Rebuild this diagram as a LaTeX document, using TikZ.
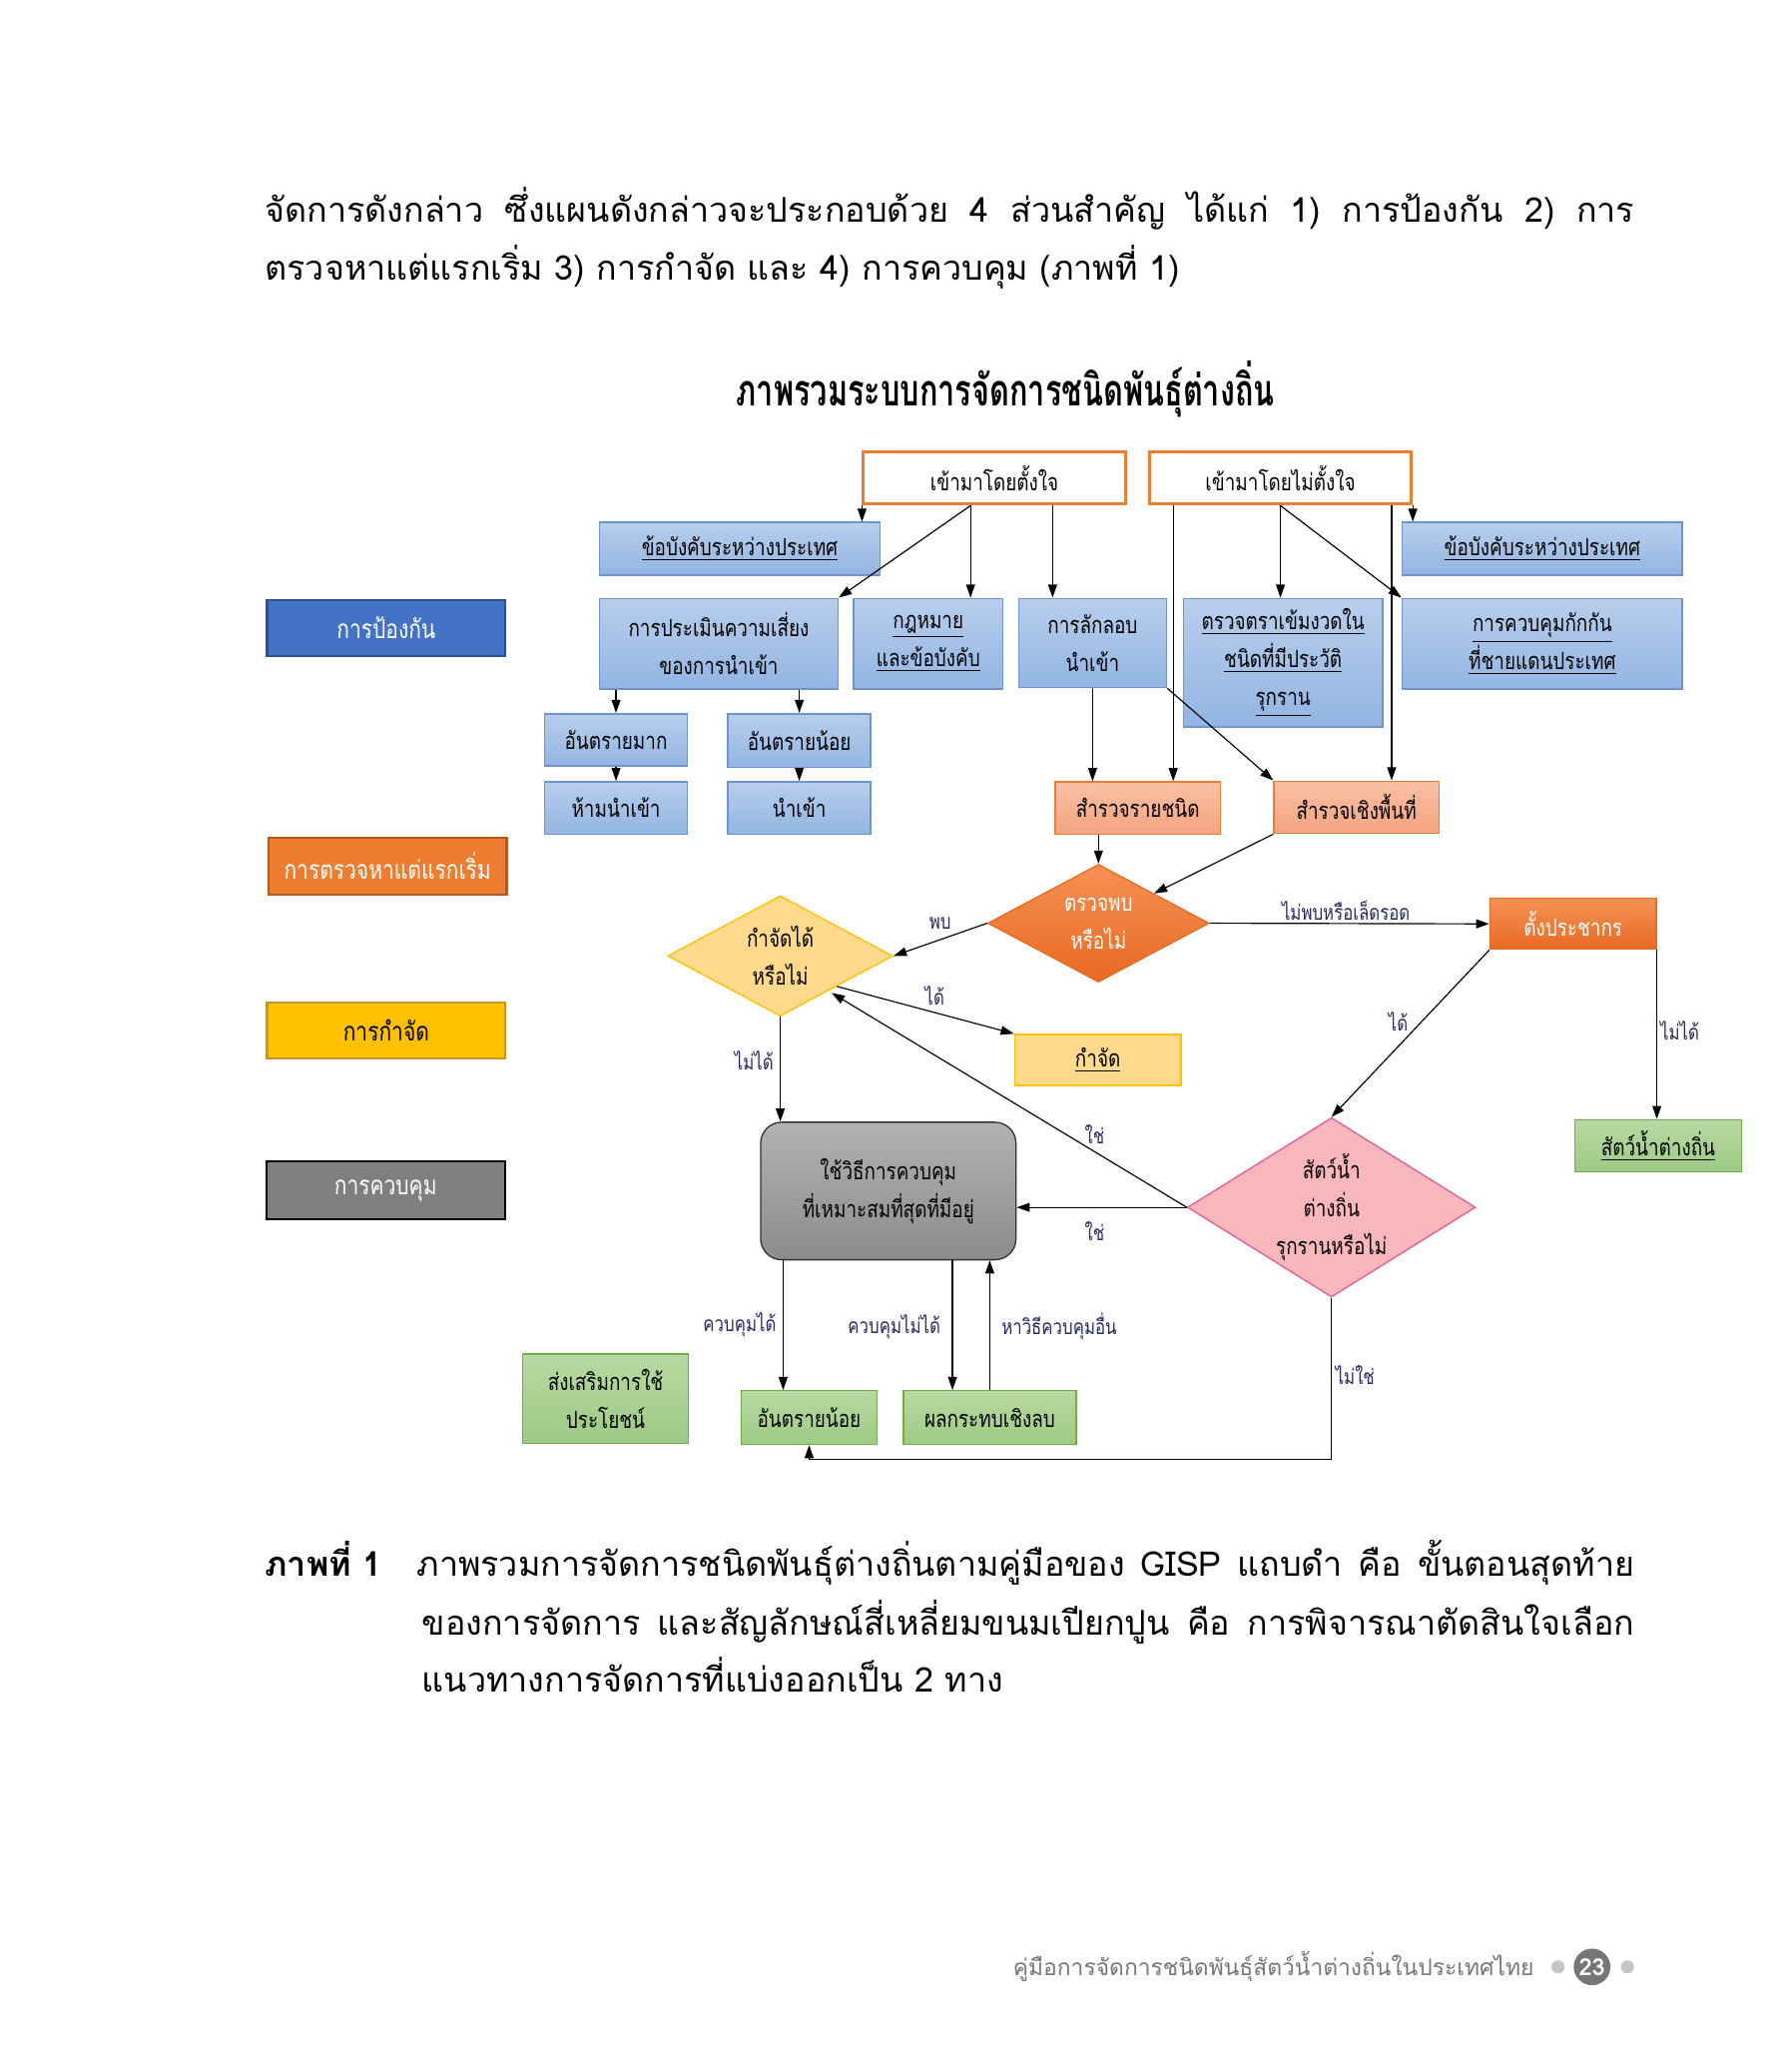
\documentclass[tikz,border=0pt]{standalone}
\usepackage{fontspec}
\setmainfont[Script=Thai]{Loma}
\newfontfamily\boxfont[Script=Thai,FakeStretch=0.8]{Loma}
\newfontfamily\titlefont[Script=Thai,FakeStretch=0.7]{Loma}
\usetikzlibrary{shapes.geometric,arrows.meta,calc}

\definecolor{blueTop}{RGB}{184,206,236}
\definecolor{blueBot}{RGB}{146,181,226}
\definecolor{blueLine}{RGB}{110,148,207}
\definecolor{orgLine}{RGB}{237,125,49}
\definecolor{salTop}{RGB}{249,192,164}
\definecolor{salBot}{RGB}{244,164,128}
\definecolor{orgTop}{RGB}{245,145,84}
\definecolor{orgBot}{RGB}{232,106,36}
\definecolor{yelFill}{RGB}{255,217,140}
\definecolor{yelLine}{RGB}{255,192,0}
\definecolor{pinkFill}{RGB}{248,183,186}
\definecolor{pinkLine}{RGB}{226,90,150}
\definecolor{grnTop}{RGB}{184,217,162}
\definecolor{grnBot}{RGB}{158,202,132}
\definecolor{grnLine}{RGB}{112,173,71}
\definecolor{grayTop}{RGB}{178,178,178}
\definecolor{grayBot}{RGB}{140,140,140}
\definecolor{lblText}{RGB}{40,40,100}
\definecolor{legBlue}{RGB}{68,114,196}
\definecolor{legBlueLine}{RGB}{47,82,143}
\definecolor{legOrg}{RGB}{237,125,49}
\definecolor{legOrgLine}{RGB}{174,90,33}
\definecolor{legYel}{RGB}{255,192,0}
\definecolor{legYelLine}{RGB}{200,150,40}
\definecolor{legGray}{RGB}{127,127,127}
\definecolor{footGray}{RGB}{118,118,118}
\definecolor{dotGray}{RGB}{196,196,196}

\newcommand\bxf{\boxfont\fontsize{9}{14.5}\selectfont}
\newcommand\lgf{\boxfont\fontsize{10}{12}\selectfont}
\newcommand\lbf{\boxfont\fontsize{8}{10}\selectfont}
\newcommand\txf{\fontsize{13}{22}\selectfont}

\tikzset{
  box/.style={draw, inner sep=1pt, align=center, font=\bxf},
  entrybox/.style={box, draw=orgLine, line width=1.1pt, fill=white, minimum width=100pt, minimum height=20pt},
  bluebox/.style={box, draw=blueLine, line width=0.6pt, top color=blueTop, bottom color=blueBot},
  salbox/.style={box, draw=orgLine, line width=0.5pt, top color=salTop, bottom color=salBot, minimum width=63pt, minimum height=20pt},
  grnbox/.style={box, draw=grnLine, line width=0.5pt, top color=grnTop, bottom color=grnBot},
  legbox/.style={draw, line width=0.8pt, font=\lgf, minimum width=91pt, minimum height=21.5pt},
  dia/.style={diamond, draw, inner sep=0pt, line width=0.5pt},
  dtext/.style={align=center, font=\bxf, inner sep=0pt},
  arr/.style={-{Triangle[length=5pt,width=3.4pt]}, line width=0.45pt},
  lbl/.style={font=\lbf, text=lblText, inner sep=0pt}
}

\begin{document}
\begin{tikzpicture}[x=0.5pt,y=0.5pt,yscale=-1]
\useasboundingbox (0,0) rectangle (1368,1567);
\fill[white] (0,0) rectangle (1368,1567);

% Text Node
\node[anchor=base west, inner sep=0pt, font=\txf] (par1) at (202,170) {\makebox[523pt][s]{จัดการดังกล่าว ซึ่งแผนดังกล่าวจะประกอบด้วย 4 ส่วนสำคัญ ได้แก่ 1) การป้องกัน 2) การ}};
% Text Node
\node[anchor=base west, inner sep=0pt, font=\txf] (par2) at (202,214) {ตรวจหาแต่แรกเริ่ม 3) การกำจัด และ 4) การควบคุม (ภาพที่ 1)};

% Text Node
\node[anchor=base, inner sep=0pt, font=\titlefont\bfseries\fontsize{16.7}{18}\selectfont] (title) at (768,310) {ภาพรวมระบบการจัดการชนิดพันธุ์ต่างถิ่น};

%Shape: Rectangle
\node[entrybox] (in1) at (759.5,365) {เข้ามาโดยตั้งใจ};
\node[entrybox] (in2) at (978,365) {เข้ามาโดยไม่ตั้งใจ};

%Shape: Rectangle
\node[bluebox, minimum width=107pt, minimum height=20pt] (regL) at (565,419) {\underline{ข้อบังคับระหว่างประเทศ}};
\node[bluebox, minimum width=107pt, minimum height=20pt] (regR) at (1178,419) {\underline{ข้อบังคับระหว่างประเทศ}};
\node[bluebox, minimum width=91pt, minimum height=34.5pt] (risk) at (549,491.5) {การประเมินความเสี่ยง\\ของการนำเข้า};
\node[bluebox, minimum width=57pt, minimum height=34.5pt] (law) at (709,491.5) {\underline{กฎหมาย}\\\underline{และข้อบังคับ}};
\node[bluebox, minimum width=56.5pt, minimum height=34pt] (smug) at (834.5,491) {การลักลอบ\\นำเข้า};
\node[bluebox, minimum width=76pt, minimum height=49pt] (inspect) at (980,506) {\underline{ตรวจตราเข้มงวดใน}\\\underline{ชนิดที่มีประวัติ}\\\underline{รุกราน}};
\node[bluebox, minimum width=107pt, minimum height=34.5pt] (border) at (1178,491.5) {\underline{การควบคุมกักกัน}\\\underline{ที่ชายแดนประเทศ}};
\node[bluebox, minimum width=54.5pt, minimum height=20pt] (hiHarm) at (470.5,565) {อันตรายมาก};
\node[bluebox, minimum width=54.5pt, minimum height=20.5pt] (loHarm) at (610.5,565.5) {อันตรายน้อย};
\node[bluebox, minimum width=54.5pt, minimum height=20pt] (ban) at (470.5,617) {ห้ามนำเข้า};
\node[bluebox, minimum width=54.5pt, minimum height=20pt] (imp) at (610.5,617) {นำเข้า};

%Shape: Rectangle
\node[salbox] (surSp) at (869,617) {สำรวจรายชนิด};
\node[salbox] (surAr) at (1036,616.5) {สำรวจเชิงพื้นที่};

%Shape: Rectangle (legend)
\node[legbox, draw=legBlueLine, fill=legBlue, text=white] (lgPrev) at (295,479.5) {การป้องกัน};
\node[legbox, draw=legOrgLine, fill=legOrg, text=white] (lgDet) at (296,661.5) {การตรวจหาแต่แรกเริ่ม};
\node[legbox, draw=legYelLine, fill=legYel] (lgErad) at (295,787) {การกำจัด};
\node[legbox, draw=black, fill=legGray, text=white, minimum height=22pt] (lgCtrl) at (294.5,909) {การควบคุม};

%Shape: Diamond
\node[dia, draw=orgBot, top color=orgTop, bottom color=orgBot, minimum width=84.5pt, minimum height=45pt,
  label={[dtext, text=white]center:ตรวจพบ\\หรือไม่}] (detect) at (839,705) {};
\node[dia, draw=yelLine, fill=yelFill, minimum width=86pt, minimum height=46pt,
  label={[dtext]center:กำจัดได้\\หรือไม่}] (eradQ) at (596,730) {};
\node[dia, draw=pinkLine, fill=pinkFill, minimum width=110pt, minimum height=68.5pt,
  label={[dtext]center:สัตว์น้ำ\\ต่างถิ่น\\รุกรานหรือไม่}] (invQ) at (1017,922) {};

%Shape: Rectangle
\node[box, draw=orgBot, line width=0.5pt, top color=orgTop, bottom color=orgBot, text=white, minimum width=63.5pt, minimum height=19.5pt] (settle) at (1201.5,705.5) {ตั้งประชากร};
\node[box, draw=yelLine, line width=0.6pt, fill=yelFill, minimum width=63.5pt, minimum height=19.5pt] (erad) at (838.5,809.5) {\underline{กำจัด}};
\node[grnbox, minimum width=63.5pt, minimum height=20pt] (alien) at (1266.5,875) {\underline{สัตว์น้ำต่างถิ่น}};
\node[box, draw=black!80, line width=0.5pt, rounded corners=8pt, top color=grayTop, bottom color=grayBot, minimum width=97.5pt, minimum height=52.5pt] (ctrl) at (678.5,909.5) {ใช้วิธีการควบคุม\\ที่เหมาะสมที่สุดที่มีอยู่};
\node[grnbox, minimum width=63.5pt, minimum height=34pt] (promo) at (462.5,1068) {ส่งเสริมการใช้\\ประโยชน์};
\node[grnbox, minimum width=52pt, minimum height=20.5pt] (lowH) at (618,1082.5) {อันตรายน้อย};
\node[grnbox, minimum width=66pt, minimum height=20.5pt] (neg) at (756,1082.5) {ผลกระทบเชิงลบ};

\coordinate (in1a) at ($(in1.south west)!0.41!(in1.south east)$);
\coordinate (in1b) at ($(in1.south west)!0.72!(in1.south east)$);
\coordinate (in2a) at ($(in2.south west)!0.095!(in2.south east)$);
\coordinate (in2b) at ($(in2.south west)!0.92!(in2.south east)$);
\coordinate (ctrlA) at ($(ctrl.south west)!0.09!(ctrl.south east)$);
\coordinate (ctrlB) at ($(ctrl.south west)!0.75!(ctrl.south east)$);

%Straight Lines
\draw[arr] (in1.south west) -- (in1.south west |- regL.north);
\draw[arr] (in1a) -- (risk.north east);
\draw[arr] (in1a) -- (in1a |- law.north);
\draw[arr] (in1b) -- (in1b |- smug.north);
\draw[arr] (in2a) -- (in2a |- surSp.north);
\draw[arr] (in2.south) -- (in2.south |- inspect.north);
\draw[arr] (in2.south) -- (border.north west);
\draw[arr] (in2b) -- (in2b |- surAr.north);
\draw[arr] (in2.south east) -- (in2.south east |- regR.north);
\draw[arr] (hiHarm.north |- risk.south) -- (hiHarm.north);
\draw[arr] (loHarm.north |- risk.south) -- (loHarm.north);
\draw[arr] (hiHarm) -- (ban);
\draw[arr] (loHarm) -- (imp);
\draw[arr] (smug.south) -- (smug.south |- surSp.north);
\draw[arr] (smug.south east) -- (surAr.north west);
\draw[arr] (detect.north |- surSp.south) -- (detect.north);
\draw[arr] (surAr.south west) -- (detect.north east);
\draw[arr] (detect.west) -- (eradQ.east);
\draw[arr] (detect.east) -- (settle.west);
\draw[arr] (eradQ.south east) -- (erad.north west);
\draw[arr] (eradQ.south) -- (eradQ.south |- ctrl.north);
\draw[arr] (settle.south west) -- (invQ.north);
\draw[arr] (settle.south east) -- (settle.south east |- alien.north);
\draw[arr] (invQ.west) -- ($(eradQ.south east)+(-4,5)$);
\draw[arr] (invQ.west) -- (invQ.west -| ctrl.east);
\draw[arr] (invQ.south) |- ($(lowH.south)+(0,11)$) -- (lowH.south);
\draw[arr] (ctrlA) -- (ctrlA |- lowH.north);
\draw[arr] (ctrlB) -- (ctrlB |- neg.north);
\draw[arr] (neg.north) -- (neg.north |- ctrl.south);

% Text Node
\node[lbl] (lbFound) at (718,705) {พบ};
\node[lbl] (lbMiss) at (1028,695) {ไม่พบหรือเล็ดรอด};
\node[lbl] (lbCan) at (714,760) {ได้};
\node[lbl] (lbCannot) at (576,810) {ไม่ได้};
\node[lbl] (lbCan2) at (1068,780) {ได้};
\node[lbl] (lbCannot2) at (1283,787) {ไม่ได้};
\node[lbl] (lbYes) at (836,866) {ใช่};
\node[lbl] (lbYes2) at (836,940) {ใช่};
\node[lbl] (lbNo) at (1035,1050) {ไม่ใช่};
\node[lbl] (lbOk) at (565,1012) {ควบคุมได้};
\node[lbl] (lbFail) at (683,1013) {ควบคุมไม่ได้};
\node[lbl] (lbOther) at (809,1013) {หาวิธีควบคุมอื่น};

% Text Node (caption)
\node[anchor=base west, inner sep=0pt, font=\txf\bfseries] (capHead) at (202,1204) {ภาพที่ 1};
\node[anchor=base west, inner sep=0pt, font=\txf] (cap1) at (318,1204) {\makebox[465pt][s]{ภาพรวมการจัดการชนิดพันธุ์ต่างถิ่นตามคู่มือของ GISP แถบดำ คือ ขั้นตอนสุดท้าย}};
\node[anchor=base west, inner sep=0pt, font=\txf] (cap2) at (322,1249) {\makebox[463pt][s]{ของการจัดการ และสัญลักษณ์สี่เหลี่ยมขนมเปียกปูน คือ การพิจารณาตัดสินใจเลือก}};
\node[anchor=base west, inner sep=0pt, font=\txf] (cap3) at (322,1292) {แนวทางการจัดการที่แบ่งออกเป็น 2 ทาง};

% Text Node (footer)
\node[anchor=base east, inner sep=0pt, text=footGray, font=\fontsize{8.7}{11}\selectfont] (foot) at (1172,1509) {คู่มือการจัดการชนิดพันธุ์สัตว์น้ำต่างถิ่นในประเทศไทย};
%Shape: Circle
\fill[dotGray] (1190,1502) circle[radius=5];
\fill[dotGray] (1243,1502) circle[radius=5];
\node[circle, fill=footGray, text=white, inner sep=0pt, minimum size=14pt, font=\bfseries\fontsize{9}{10}\selectfont] (pgno) at (1216,1502) {23};

\end{tikzpicture}
\end{document}
